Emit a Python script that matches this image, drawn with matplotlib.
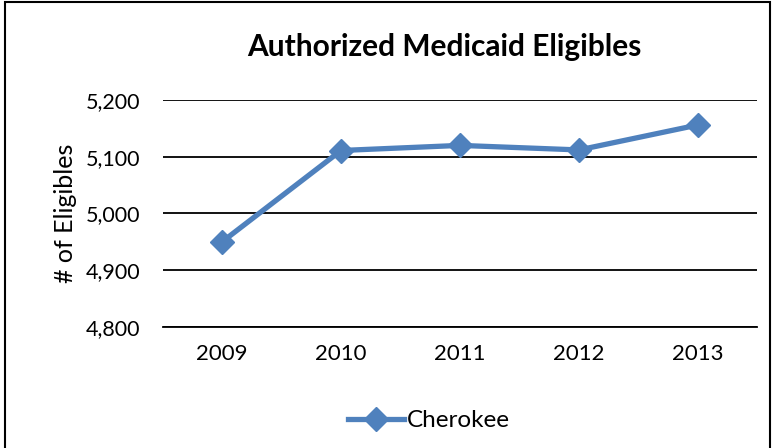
import matplotlib.pyplot as plt
from matplotlib.patches import Rectangle

# dados
anos = ['2009', '2010', '2011', '2012', '2013']
cherokee = [4950, 5111, 5120, 5112, 5156]
y_ticks = [4800, 4900, 5000, 5100, 5200]

plt.rcParams['font.family'] = ['Lato', 'DejaVu Sans']

fig = plt.figure(figsize=(7.75, 4.48), dpi=100)
ax = fig.add_axes([0.2097, 0.2701, 0.7677, 0.5067])

x = range(len(anos))
ax.plot(x, cherokee, color='#4F81BD', linewidth=3.8, marker='D',
        markersize=12.5, label='Cherokee')

ax.set_xlim(-0.5, len(anos) - 0.5)
ax.set_ylim(4800, 5200)
ax.set_yticks(y_ticks)
ax.set_yticklabels([f'{v:,}' for v in y_ticks], fontsize=15.5)
ax.set_xticks(list(x))
ax.set_xticklabels(anos, fontsize=16)
ax.tick_params(axis='y', length=0, pad=16)
ax.tick_params(axis='x', length=0, pad=12)
ax.yaxis.grid(True, color='black', linewidth=1.3)
ax.set_axisbelow(True)
for s in ['left', 'right', 'top']:
    ax.spines[s].set_visible(False)
ax.spines['bottom'].set_linewidth(1.3)

ax.set_ylabel('# of Eligibles', fontsize=18, labelpad=6)
fig.text(0.574, 0.895, 'Authorized Medicaid Eligibles', ha='center', va='center',
         fontsize=21.5, fontweight='bold')

ax.legend(loc='center', bbox_to_anchor=(0.448, -0.414), frameon=False,
          fontsize=17.5, handlelength=2.3, handletextpad=0.1, borderaxespad=0)

# borda da figura
fig.patches.append(Rectangle((0.006, -0.01), 0.988, 1.005, transform=fig.transFigure,
                             fill=False, edgecolor='black', linewidth=1.5))

fig.savefig('out.png', dpi=100)
